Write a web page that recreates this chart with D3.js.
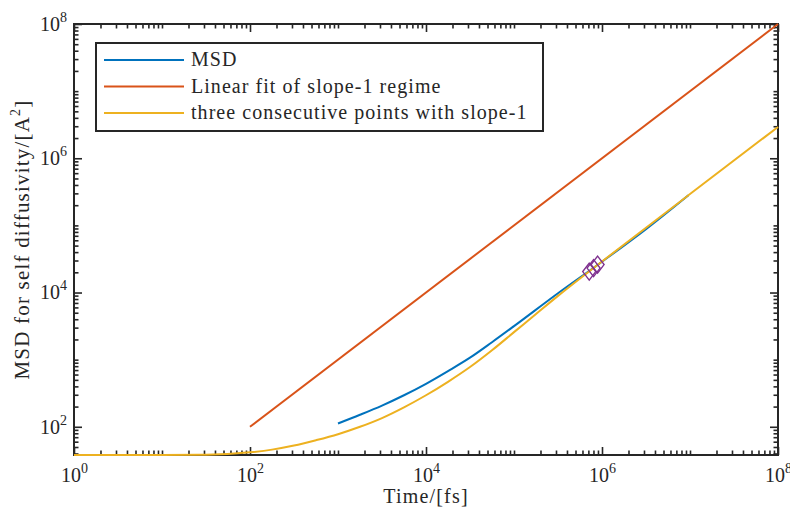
<!DOCTYPE html>
<html>
<head>
<meta charset="utf-8">
<script src="https://cdn.jsdelivr.net/npm/d3@7/dist/d3.min.js"></script>
<style>
  body { margin: 0; background: #fff; }
  text { font-family: "Liberation Serif", "Times New Roman", serif; fill: #262626; }
</style>
</head>
<body>
<div id="chart"></div>
<script>
// MSD curve
const msdTime  = [1000, 1778, 3162, 5623, 1e4, 17783, 31623, 56234, 1e5, 316228, 1e6, 3.16e6, 9.6e6];
const msdValue = [112, 151, 207, 295, 437, 676, 1070, 1820, 3160, 9770, 28800, 88000, 282000];

// linear fit of the slope-1 regime
const fitTime  = [1e2, 1e8];
const fitValue = [1e2, 1e8];

// yellow curve (three consecutive points with slope-1)
const slopeTime  = [1, 10, 31.6, 100, 178, 316, 562, 1000, 1778, 3162, 5623, 1e4, 17783,
                    31623, 56234, 1e5, 177828, 316228, 562341, 1e6, 1e7, 1e8];
const slopeValue = [38, 38, 38.3, 41.7, 45.7, 52.5, 63.1, 77.6, 100, 135, 195, 295, 468,
                    776, 1380, 2570, 4790, 8910, 16200, 29000, 293000, 2930000];

// the three picked points (diamonds)
const pickTime  = [7.16e5, 8.02e5, 8.91e5];
const pickValue = [20500, 23100, 26100];

const xMajor = [1e0, 1e2, 1e4, 1e6, 1e8];
const yMajor = [1e2, 1e4, 1e6, 1e8];

const legendLabels = ['MSD', 'Linear fit of slope-1 regime', 'three consecutive points with slope-1'];
const colors = ['#0072BD', '#D95319', '#EDB120'];
const pickColor = '#7E2F8E';

const W = 790, H = 508;
const margin = { top: 24, right: 12, bottom: 53, left: 74 };

const svg = d3.select('#chart').append('svg')
    .attr('width', W)
    .attr('height', H);

const x = d3.scaleLog().domain([1, 1e8]).range([margin.left, W - margin.right]);
const y = d3.scaleLog().domain([38, 1e8]).range([H - margin.bottom, margin.top]);

const x0 = x.range()[0], x1 = x.range()[1];
const y0 = y.range()[0], y1 = y.range()[1];

// minor ticks: every m*10^k that is not a labelled major
function minorTicks(scale, major) {
    return scale.ticks().filter(v => !major.some(m => Math.abs(m - v) / m < 1e-9));
}
const xMinor = minorTicks(x, xMajor);
const yMinor = minorTicks(y, yMajor).filter(v => v >= 38);

const axisColor = '#262626';

function styleAxis(g) {
    g.select('.domain').remove();
    g.selectAll('line').attr('stroke', axisColor).attr('stroke-width', 1.6);
}

function powLabel(sel) {
    sel.each(function(d) {
        const t = d3.select(this);
        const e = Math.round(Math.log10(d));
        t.text('');
        t.append('tspan').text('10');
        t.append('tspan').attr('dy', -9).style('font-size', '14px').text(e);
    });
}

// bottom axis
const gxMaj = svg.append('g').attr('transform', `translate(0,${y0})`)
    .call(d3.axisBottom(x).tickValues(xMajor).tickSizeInner(-8).tickSizeOuter(0));
gxMaj.call(styleAxis);
gxMaj.selectAll('text')
    .attr('y', 27).attr('dy', 0)
    .style('font-size', '20px')
    .call(powLabel);
svg.append('g').attr('transform', `translate(0,${y0})`)
    .call(d3.axisBottom(x).tickValues(xMinor).tickSizeInner(-4.5).tickSizeOuter(0).tickFormat(''))
    .call(styleAxis);

// top axis (ticks only)
svg.append('g').attr('transform', `translate(0,${y1})`)
    .call(d3.axisTop(x).tickValues(xMajor).tickSizeInner(-8).tickSizeOuter(0).tickFormat(''))
    .call(styleAxis);
svg.append('g').attr('transform', `translate(0,${y1})`)
    .call(d3.axisTop(x).tickValues(xMinor).tickSizeInner(-4.5).tickSizeOuter(0).tickFormat(''))
    .call(styleAxis);

// left axis
const gyMaj = svg.append('g').attr('transform', `translate(${x0},0)`)
    .call(d3.axisLeft(y).tickValues(yMajor).tickSizeInner(-8).tickSizeOuter(0).tickPadding(7));
gyMaj.call(styleAxis);
gyMaj.selectAll('text')
    .style('font-size', '20px')
    .call(powLabel);
svg.append('g').attr('transform', `translate(${x0},0)`)
    .call(d3.axisLeft(y).tickValues(yMinor).tickSizeInner(-4.5).tickSizeOuter(0).tickFormat(''))
    .call(styleAxis);

// right axis (ticks only)
svg.append('g').attr('transform', `translate(${x1},0)`)
    .call(d3.axisRight(y).tickValues(yMajor).tickSizeInner(-8).tickSizeOuter(0).tickFormat(''))
    .call(styleAxis);
svg.append('g').attr('transform', `translate(${x1},0)`)
    .call(d3.axisRight(y).tickValues(yMinor).tickSizeInner(-4.5).tickSizeOuter(0).tickFormat(''))
    .call(styleAxis);

// box
svg.append('rect')
    .attr('x', x0).attr('y', y1)
    .attr('width', x1 - x0).attr('height', y0 - y1)
    .attr('fill', 'none')
    .attr('stroke', axisColor)
    .attr('stroke-width', 2);

// lines
const line = d3.line()
    .x(d => x(d[0]))
    .y(d => y(d[1]))
    .curve(d3.curveMonotoneX);

const series = [
    d3.zip(msdTime, msdValue),
    d3.zip(fitTime, fitValue),
    d3.zip(slopeTime, slopeValue)
];

svg.selectAll('path.series')
    .data(series)
  .enter().append('path')
    .attr('class', 'series')
    .attr('d', line)
    .attr('fill', 'none')
    .attr('stroke', (d, i) => colors[i])
    .attr('stroke-width', 2);

// diamonds
svg.selectAll('path.pick')
    .data(d3.zip(pickTime, pickValue))
  .enter().append('path')
    .attr('class', 'pick')
    .attr('transform', d => `translate(${x(d[0])},${y(d[1])})`)
    .attr('d', 'M0,-8.5L6.5,0L0,8.5L-6.5,0Z')
    .attr('fill', 'none')
    .attr('stroke', pickColor)
    .attr('stroke-width', 1.4);

// axis titles
svg.append('text')
    .attr('x', (x0 + x1) / 2)
    .attr('y', 503)
    .attr('text-anchor', 'middle')
    .style('font-size', '20px')
    .style('letter-spacing', '1.2px')
    .text('Time/[fs]');

const yl = svg.append('text')
    .attr('transform', `translate(29,${(y0 + y1) / 2}) rotate(-90)`)
    .attr('text-anchor', 'middle')
    .style('font-size', '21px')
    .style('letter-spacing', '1.2px');
yl.append('tspan').text('MSD for self diffusivity/[A');
yl.append('tspan').attr('dy', -9).style('font-size', '14px').text('2');
yl.append('tspan').attr('dy', 9).text(']');

// legend
const lg = svg.append('g');
lg.append('rect')
    .attr('x', 96).attr('y', 43)
    .attr('width', 447).attr('height', 88)
    .attr('fill', '#fff')
    .attr('stroke', axisColor)
    .attr('stroke-width', 2);

const rows = lg.selectAll('g.row')
    .data(legendLabels)
  .enter().append('g')
    .attr('class', 'row')
    .attr('transform', (d, i) => `translate(0,${60 + i * 26.5})`);

rows.append('line')
    .attr('x1', 104).attr('x2', 184)
    .attr('stroke', (d, i) => colors[i])
    .attr('stroke-width', 2);

rows.append('text')
    .attr('x', 191).attr('y', 6)
    .style('font-size', '20px')
    .style('letter-spacing', '1.05px')
    .text(d => d);
</script>
</body>
</html>
